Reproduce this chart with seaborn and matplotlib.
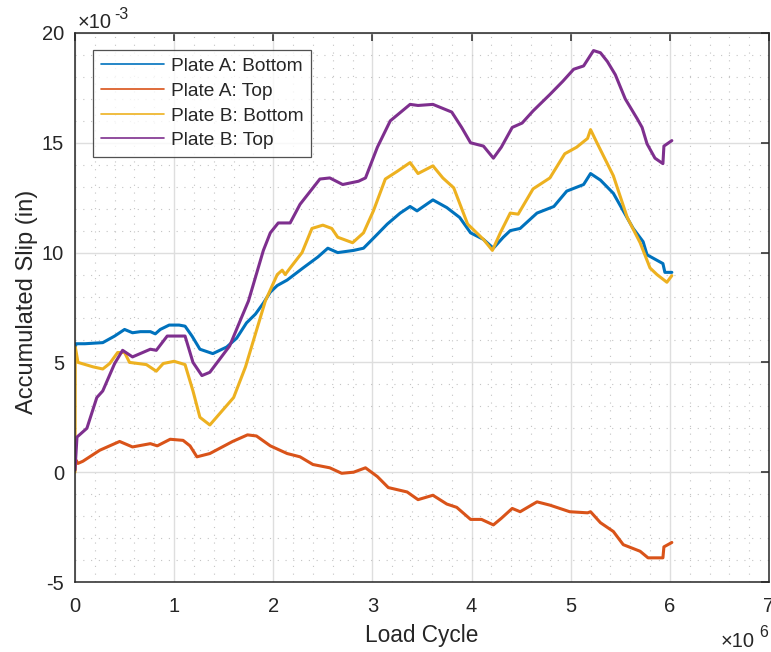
import numpy as np
import pandas as pd
import matplotlib
matplotlib.use("Agg")
import matplotlib.pyplot as plt
import seaborn as sns
from matplotlib.ticker import MultipleLocator

# x in units of 1e6 load cycles, y in units of 1e-3 in
a_bot_x = [0, 0.01, 0.1, 0.28, 0.4, 0.5, 0.58, 0.66, 0.76, 0.81, 0.86, 0.95, 1.05, 1.11, 1.18, 1.26,
           1.39, 1.53, 1.63, 1.73, 1.82, 1.9, 1.97, 2.04, 2.14, 2.30, 2.45, 2.55, 2.65, 2.81, 2.91,
           3.02, 3.15, 3.28, 3.38, 3.45, 3.53, 3.61, 3.75, 3.88, 3.99, 4.12, 4.22, 4.32, 4.39, 4.49,
           4.66, 4.83, 4.96, 5.13, 5.20, 5.30, 5.43, 5.53, 5.63, 5.73, 5.77, 5.85, 5.93, 5.95, 6.02]
a_bot_y = [5.6, 5.85, 5.85, 5.9, 6.2, 6.5, 6.35, 6.4, 6.4, 6.3, 6.5, 6.7, 6.7, 6.65, 6.2, 5.6,
           5.4, 5.7, 6.1, 6.8, 7.2, 7.7, 8.2, 8.5, 8.75, 9.3, 9.8, 10.2, 10.0, 10.1, 10.2,
           10.7, 11.3, 11.8, 12.1, 11.9, 12.15, 12.4, 12.05, 11.6, 10.9, 10.6, 10.2, 10.7, 11.0, 11.1,
           11.8, 12.1, 12.8, 13.1, 13.6, 13.3, 12.7, 11.9, 11.1, 10.5, 9.9, 9.7, 9.5, 9.1, 9.1]

a_top_x = [0, 0.01, 0.03, 0.08, 0.25, 0.45, 0.58, 0.76, 0.83, 0.96, 1.09, 1.16, 1.23, 1.36, 1.59,
           1.74, 1.83, 1.97, 2.14, 2.27, 2.40, 2.57, 2.69, 2.81, 2.93, 3.05, 3.16, 3.35, 3.46, 3.61,
           3.75, 3.85, 3.99, 4.10, 4.22, 4.30, 4.41, 4.49, 4.66, 4.79, 4.99, 5.17, 5.20, 5.30, 5.43,
           5.53, 5.70, 5.78, 5.93, 5.94, 6.02]
a_top_y = [0.1, 0.55, 0.4, 0.5, 1.0, 1.4, 1.15, 1.3, 1.2, 1.5, 1.45, 1.2, 0.7, 0.85, 1.4,
           1.7, 1.65, 1.2, 0.85, 0.7, 0.35, 0.2, -0.05, 0.0, 0.2, -0.2, -0.7, -0.9, -1.25, -1.05,
           -1.45, -1.6, -2.15, -2.15, -2.4, -2.1, -1.65, -1.8, -1.35, -1.5, -1.8, -1.85, -1.8, -2.3, -2.7,
           -3.3, -3.6, -3.9, -3.9, -3.4, -3.2]

b_bot_x = [0, 0.003, 0.03, 0.18, 0.28, 0.35, 0.43, 0.5, 0.55, 0.72, 0.82, 0.89, 1.0, 1.11, 1.19,
           1.26, 1.36, 1.6, 1.72, 1.84, 1.92, 2.04, 2.09, 2.12, 2.17, 2.29, 2.39, 2.50, 2.59, 2.65,
           2.80, 2.91, 3.01, 3.13, 3.25, 3.38, 3.46, 3.61, 3.71, 3.82, 3.96, 4.12, 4.21, 4.29, 4.39,
           4.47, 4.62, 4.79, 4.94, 5.06, 5.17, 5.20, 5.27, 5.43, 5.57, 5.70, 5.80, 5.87, 5.97, 6.02]
b_bot_y = [0.0, 5.7, 5.0, 4.8, 4.7, 4.95, 5.45, 5.45, 5.0, 4.9, 4.6, 4.95, 5.05, 4.9, 3.7,
           2.5, 2.15, 3.4, 4.8, 6.6, 7.8, 9.0, 9.2, 9.0, 9.3, 10.0, 11.1, 11.25, 11.1, 10.7,
           10.45, 10.9, 11.9, 13.35, 13.7, 14.1, 13.6, 13.95, 13.4, 12.95, 11.3, 10.6, 10.1, 10.9, 11.8,
           11.75, 12.9, 13.4, 14.5, 14.8, 15.2, 15.6, 14.95, 13.5, 11.6, 10.45, 9.3, 9.0, 8.65, 8.95]

b_top_x = [0, 0.02, 0.12, 0.22, 0.28, 0.4, 0.48, 0.58, 0.76, 0.82, 0.93, 1.11, 1.19, 1.28, 1.36,
           1.56, 1.68, 1.75, 1.9, 1.97, 2.05, 2.17, 2.27, 2.47, 2.57, 2.70, 2.86, 2.93, 3.05, 3.18,
           3.38, 3.46, 3.61, 3.80, 3.90, 3.99, 4.12, 4.22, 4.30, 4.41, 4.51, 4.62, 4.79, 4.92, 5.03,
           5.13, 5.23, 5.30, 5.37, 5.45, 5.55, 5.67, 5.72, 5.77, 5.85, 5.93, 5.94, 6.02]
b_top_y = [0.1, 1.6, 2.0, 3.4, 3.7, 4.95, 5.55, 5.25, 5.6, 5.55, 6.2, 6.2, 5.0, 4.4, 4.55,
           5.75, 7.05, 7.8, 10.1, 10.9, 11.35, 11.35, 12.2, 13.35, 13.4, 13.1, 13.25, 13.4, 14.8, 16.0,
           16.75, 16.7, 16.75, 16.4, 15.7, 15.0, 14.85, 14.3, 14.8, 15.7, 15.9, 16.45, 17.2, 17.8, 18.35,
           18.5, 19.2, 19.1, 18.7, 18.1, 17.0, 16.1, 15.7, 14.95, 14.3, 14.05, 14.85, 15.1]

series_names = ["Plate A: Bottom", "Plate A: Top", "Plate B: Bottom", "Plate B: Top"]
colors = ["#0072BD", "#D95319", "#EDB120", "#7E2F8E"]
x_ticks = [0, 1, 2, 3, 4, 5, 6, 7]
y_ticks = [-5, 0, 5, 10, 15, 20]

frames = []
for name, xs, ys in zip(series_names, [a_bot_x, a_top_x, b_bot_x, b_top_x],
                        [a_bot_y, a_top_y, b_bot_y, b_top_y]):
    frames.append(pd.DataFrame({"x": xs, "y": ys, "series": name}))
df = pd.concat(frames, ignore_index=True)

sns.set_style("white")
plt.rcParams["font.family"] = ["Liberation Sans", "DejaVu Sans"]

W, H = 771, 652
fig = plt.figure(figsize=(W / 100, H / 100), dpi=100)
ax = fig.add_axes([75 / W, 1 - 582 / H, (769 - 75) / W, (582 - 33) / H])

sns.lineplot(data=df, x="x", y="y", hue="series", hue_order=series_names,
             palette=colors, estimator=None, sort=False,
             linewidth=2.2, ax=ax)

ax.set_xlim(0, 7)
ax.set_ylim(-5, 20)
ax.set_xticks(x_ticks)
ax.set_xticklabels([str(v) for v in x_ticks])
ax.set_yticks(y_ticks)
ax.set_yticklabels([str(v) for v in y_ticks])
ax.xaxis.set_minor_locator(MultipleLocator(0.2))
ax.yaxis.set_minor_locator(MultipleLocator(1))

ax.grid(True, which="major", color="#dedede", linewidth=1.0, linestyle="-")
ax.grid(True, which="minor", color="#c4c4c4", linewidth=0.8, linestyle=(0, (1, 6)))
ax.set_axisbelow(True)

for s in ax.spines.values():
    s.set_color("#262626")
    s.set_linewidth(1.1)
ax.tick_params(which="major", direction="in", length=6, width=1.1, color="#262626",
               top=True, right=True, labelsize=14.5, labelcolor="#262626")
ax.tick_params(axis="x", which="major", pad=11)
ax.tick_params(axis="y", which="major", pad=8)
ax.tick_params(which="minor", length=0, top=True, right=True)

ax.set_xlabel("Load Cycle", fontsize=16.3, color="#262626")
ax.set_ylabel("Accumulated Slip (in)", fontsize=17, color="#262626")
ax.xaxis.set_label_coords(0.499, -0.0765)
ax.yaxis.set_label_coords(-0.0533, 0.51)

leg = ax.legend(loc="upper left", bbox_to_anchor=(0.026, 0.969), borderaxespad=0,
                fontsize=13.8, frameon=True, fancybox=False, edgecolor="#262626",
                handlelength=3.3, handletextpad=0.35, labelspacing=0.38,
                borderpad=0.4, title=None)
leg.get_frame().set_linewidth(0.9)
for ln in leg.get_lines():
    ln.set_linewidth(1.2)

# exponent multipliers
fig.text(78 / W, 1 - 28 / H, "×10", fontsize=14.5, color="#262626", ha="left", va="baseline")
fig.text(114 / W, 1 - 19 / H, "-3", fontsize=11.5, color="#262626", ha="left", va="baseline")
fig.text(721 / W, 1 - 647 / H, "×10", fontsize=14.5, color="#262626", ha="left", va="baseline")
fig.text(759 / W, 1 - 637 / H, "6", fontsize=11.5, color="#262626", ha="left", va="baseline")

fig.savefig("out.png", dpi=100)
